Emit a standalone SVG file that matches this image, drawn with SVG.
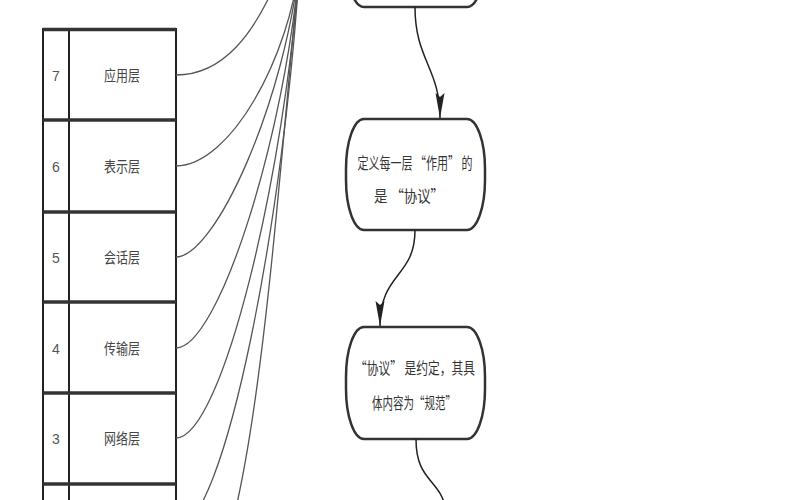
<svg xmlns="http://www.w3.org/2000/svg" width="800" height="500" viewBox="0 0 800 500">
<style>
.cell{fill:#fff;stroke:#222;stroke-width:2}
.div{stroke:#333;stroke-width:3.5}
.num{font-family:"Liberation Sans","Noto Sans CJK SC",sans-serif;font-size:14px;fill:#555;text-anchor:middle}
.lbl{font-family:"Noto Sans CJK SC",sans-serif;font-size:15px;fill:#444;text-anchor:middle}
.box{fill:#fff;stroke:#333;stroke-width:2.5}
.btxt{font-family:"Noto Sans CJK SC",sans-serif;font-size:15.5px;fill:#333;text-anchor:middle}
.curve{fill:none;stroke:#555;stroke-width:1.3}
.flow{fill:none;stroke:#222;stroke-width:1.5}
</style>
<defs>
<marker id="arr" markerUnits="userSpaceOnUse" markerWidth="26" markerHeight="10" viewBox="0 0 26 10" refX="25" refY="5" orient="auto">
<path d="M0,0.5 L25,5 L0,9.5 L4,5 z" fill="#222"/>
</marker>
</defs>
<rect width="800" height="500" fill="#fff"/>
<g id="table">
<rect class="cell" x="43" y="29" width="133" height="500"/>
<line x1="69" y1="29" x2="69" y2="500" stroke="#222" stroke-width="2"/>
<line class="div" x1="43" y1="29.5" x2="176" y2="29.5"/>
<line class="div" x1="43" y1="120" x2="176" y2="120"/>
<line class="div" x1="43" y1="212" x2="176" y2="212"/>
<line class="div" x1="43" y1="302" x2="176" y2="302"/>
<line class="div" x1="43" y1="393" x2="176" y2="393"/>
<line class="div" x1="43" y1="484" x2="176" y2="484"/>
</g>
<g id="layer7"><text class="num" x="56" y="81">7</text><text class="lbl" x="122" y="81" textLength="36" lengthAdjust="spacingAndGlyphs">应用层</text></g>
<g id="layer6"><text class="num" x="56" y="172">6</text><text class="lbl" x="122" y="172" textLength="36" lengthAdjust="spacingAndGlyphs">表示层</text></g>
<g id="layer5"><text class="num" x="56" y="263">5</text><text class="lbl" x="122" y="263" textLength="36" lengthAdjust="spacingAndGlyphs">会话层</text></g>
<g id="layer4"><text class="num" x="56" y="354">4</text><text class="lbl" x="122" y="354" textLength="36" lengthAdjust="spacingAndGlyphs">传输层</text></g>
<g id="layer3"><text class="num" x="56" y="444">3</text><text class="lbl" x="122" y="444" textLength="36" lengthAdjust="spacingAndGlyphs">网络层</text></g>
<g id="node1"><rect class="box" x="346" y="-105" width="139" height="112" rx="18" ry="50"/></g>
<g id="node2"><rect class="box" x="346" y="119" width="139" height="111" rx="18" ry="50"/>
<text class="btxt" x="415" y="169" textLength="115" lengthAdjust="spacingAndGlyphs">定义每一层 “作用” 的</text>
<text class="btxt" x="409" y="202" textLength="70" lengthAdjust="spacingAndGlyphs">是 “协议”</text></g>
<g id="node3"><rect class="box" x="346" y="327" width="139" height="112" rx="18" ry="50"/>
<text class="btxt" x="415" y="374" textLength="120" lengthAdjust="spacingAndGlyphs">“协议” 是约定，其具</text>
<text class="btxt" x="414" y="409" textLength="84" lengthAdjust="spacingAndGlyphs">体内容为“规范”</text></g>
<g id="connectors">
<path class="curve" d="M176,75 C220,75 255,40 285,-40"/>
<path class="curve" d="M176,166 C230,166 290,58 300,-40"/>
<path class="curve" d="M176,257 C215,257 285,103 300,-40"/>
<path class="curve" d="M176,348 C218,348 285,139 300,-40"/>
<path class="curve" d="M176,438 C222,438 285,175 300,-40"/>
<path class="curve" d="M176,529 C225,529 285,212 300,-40"/>
<path class="curve" d="M176,620 C250,620 272,250 300,-40"/>
<path class="flow" d="M415,7 C415,60 440,68 440,118" marker-end="url(#arr)"/>
<path class="flow" d="M415,230 C415,278 380,272 380,326" marker-end="url(#arr)"/>
<path class="flow" d="M416,439 C416,482 440,478 446,510"/>
</g>
</svg>
